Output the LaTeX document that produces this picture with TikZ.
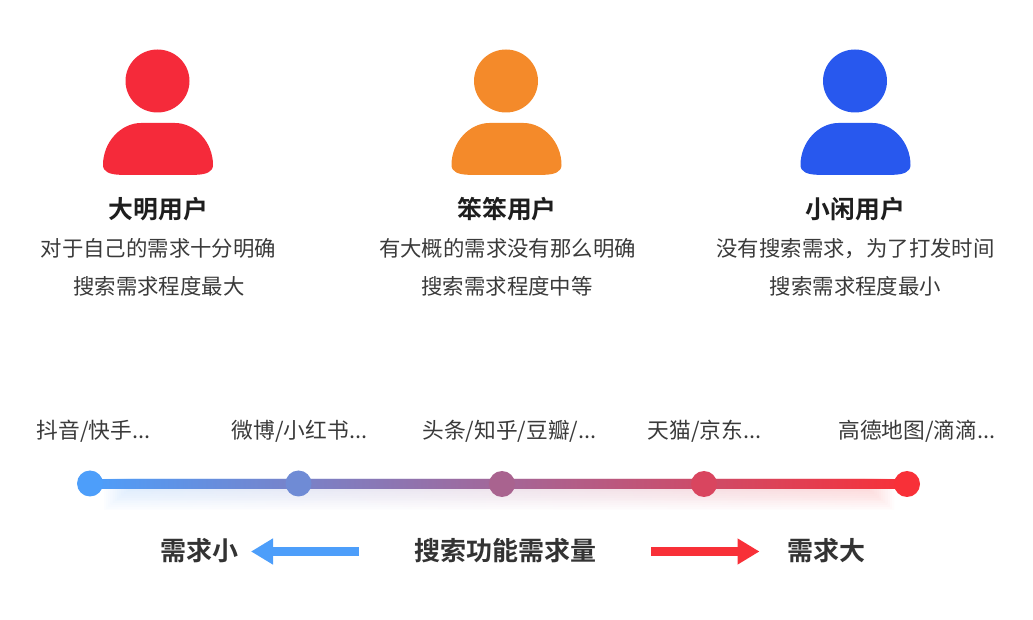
\documentclass[tikz,border=0pt]{standalone}
\usepackage{fontspec}
\setmainfont{Noto Sans CJK SC}[BoldFont={Noto Sans CJK SC Bold}]
\usetikzlibrary{arrows.meta}
\definecolor{cblue}{HTML}{4D9EFA}
\definecolor{cblueb}{HTML}{6F8BD5}
\definecolor{cmid}{HTML}{A9638F}
\definecolor{credb}{HTML}{D9455F}
\definecolor{cred}{HTML}{F83038}
\definecolor{pred}{HTML}{F52A3A}
\definecolor{porange}{HTML}{F48A2A}
\definecolor{pblue}{HTML}{2858EE}
\definecolor{bodytxt}{HTML}{3A3A3A}
\definecolor{headtxt}{HTML}{1E1E1E}
\definecolor{boldtxt}{HTML}{333333}
\tikzset{
  txt/.style={inner sep=0pt,text=bodytxt,font=\fontsize{16.05pt}{18pt}\selectfont},
  tltxt/.style={inner sep=0pt,text=bodytxt,font=\fontsize{16.3pt}{18pt}\selectfont},
  nametxt/.style={inner sep=0pt,text=headtxt,font=\fontsize{18.6pt}{20pt}\selectfont\bfseries},
  boldlab/.style={inner sep=0pt,text=boldtxt,font=\fontsize{19.5pt}{22pt}\selectfont\bfseries},
  dot/.style={circle,inner sep=0pt,minimum size=19.5pt},
  bigarrow/.style={line width=6.75pt,-{Triangle[length=16.5pt,width=18.5pt]}},
}
\newcommand{\personshape}[2]{%
  \fill[#2] (#1-0.5,81) ellipse [x radius=32,y radius=31.5];
  \fill[#2] (#1-17,123) .. controls (#1-37,123) and (#1-55,142) .. (#1-55,165)
    .. controls (#1-55,172) and (#1-48,174.5) .. (#1-38,174.8)
    -- (#1+38,174.8) .. controls (#1+48,174.5) and (#1+55,172) .. (#1+55,165)
    .. controls (#1+55,142) and (#1+37,123) .. (#1+17,123) -- cycle;
}
\begin{document}
\begin{tikzpicture}[x=0.75pt,y=-0.75pt]
\useasboundingbox (0,0) rectangle (1033,620);
% people
\personshape{158}{pred}
\personshape{506.5}{porange}
\personshape{855.5}{pblue}
\node[nametxt] (n1) at (158.5,209.5) {大明用户};
\node[nametxt] (n2) at (507,209.5) {笨笨用户};
\node[nametxt] (n3) at (855.5,209.5) {小闲用户};
\node[txt] (l11) at (158.5,248.5) {对于自己的需求十分明确};
\node[txt] (l12) at (159,286) {搜索需求程度最大};
\node[txt] (l21) at (507.5,248.5) {有大概的需求没有那么明确};
\node[txt] (l22) at (507,286) {搜索需求程度中等};
\node[txt] (l31) at (855.5,248.5) {没有搜索需求，为了打发时间};
\node[txt] (l32) at (855.5,286) {搜索需求程度最小};
% timeline labels
\node[tltxt] (t1) at (93.5,431.7) {抖音/快手...};
\node[tltxt] (t2) at (299.5,431.7) {微博/小红书...};
\node[tltxt] (t3) at (509.5,431.7) {头条/知乎/豆瓣/...};
\node[tltxt] (t4) at (704.5,431.7) {天猫/京东...};
\node[tltxt] (t5) at (917,431.7) {高德地图/滴滴...};
% dots positions
\coordinate (p1) at (90,483.5);
\coordinate (p2) at (298.5,483.5);
\coordinate (p3) at (502,484);
\coordinate (p4) at (704,484);
\coordinate (p5) at (907,484);
% soft shadow
\foreach \i in {0,...,13}{
  \shade[left color=cblue,right color=cred,opacity=.016]
    ({104+\i*2.2},479) rectangle ({894-\i*2.2},{510-\i*1.8});
}
% line
\shade[left color=cblue,right color=cred] (90,479.7) rectangle (907,488.7);
\node[dot,fill=cblue] (d1) at (p1) {};
\node[dot,fill=cblueb] (d2) at (p2) {};
\node[dot,fill=cmid] (d3) at (p3) {};
\node[dot,fill=credb] (d4) at (p4) {};
\node[dot,fill=cred] (d5) at (p5) {};
% bottom row
\node[boldlab] (small) at (199,550.3) {需求小};
\node[boldlab] (mid) at (505,550.3) {搜索功能需求量};
\node[boldlab] (big) at (826,550.3) {需求大};
\coordinate (la) at (358.5,551.5);
\coordinate (lb) at (251,551.5);
\coordinate (ra) at (651,551.5);
\coordinate (rb) at (759.5,551.5);
\draw[bigarrow,cblue] (la) -- (lb);
\draw[bigarrow,cred] (ra) -- (rb);
\end{tikzpicture}
\end{document}
